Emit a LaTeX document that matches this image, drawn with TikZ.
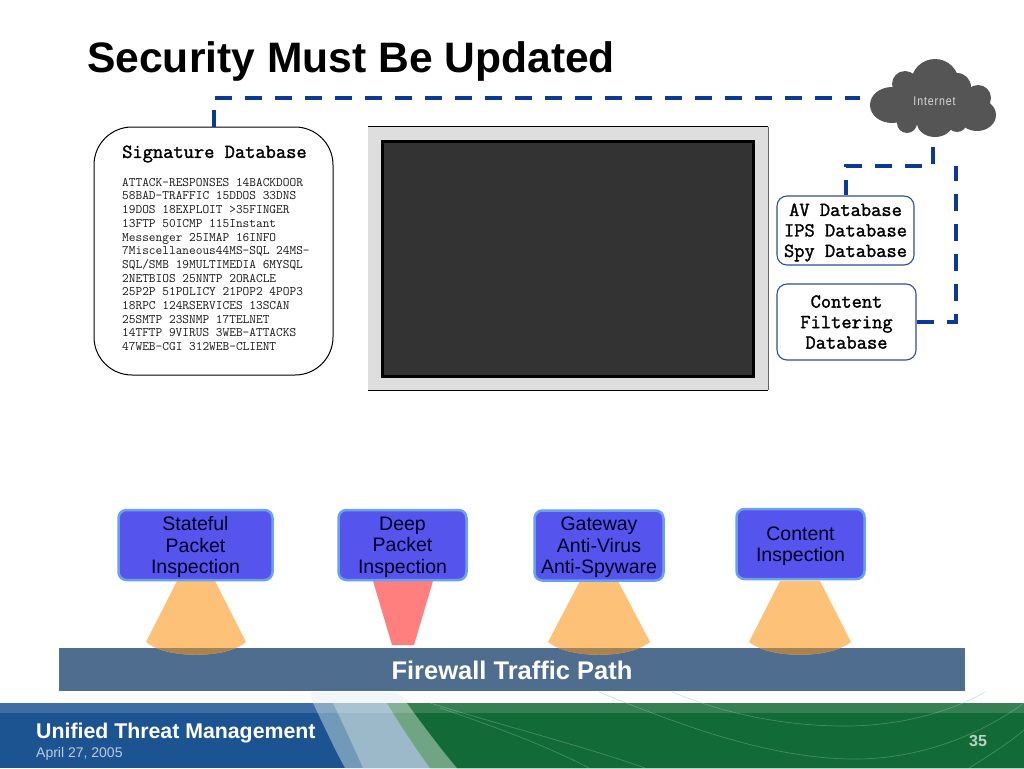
\documentclass[tikz,border=0pt]{standalone}
\usepackage{fontspec}
\setmainfont{Liberation Sans}
\newfontfamily\inetfont[LetterSpace=7,FakeStretch=0.85]{Liberation Sans}
\newfontfamily\dbfont[FakeBold=1.6]{Latin Modern Mono}
\definecolor{dbblue}{HTML}{0A3A96}
\definecolor{boxedge}{HTML}{2F4F9A}
\definecolor{toolfill}{HTML}{5555EE}
\definecolor{tooledge}{HTML}{6AA0F0}
\definecolor{barblue}{HTML}{4F6D8F}
\definecolor{conepass}{HTML}{FDC177}
\definecolor{conedark}{HTML}{A8834F}
\definecolor{coneblock}{HTML}{FF7F7F}
\definecolor{cloudgray}{HTML}{555555}
\definecolor{footblue}{HTML}{1C5492}
\definecolor{footmid}{HTML}{7399B8}
\definecolor{footpale}{HTML}{9BB9C8}
\definecolor{footsage}{HTML}{6FA583}
\definecolor{footgreen}{HTML}{126B36}
\newcommand{\footcurves}{
	(599,692) .. controls (680,725) and (770,759) .. (855,759) .. controls (920,759) and (980,735) .. (1024,703)
	(672,692) .. controls (720,712) and (780,726) .. (845,726) .. controls (900,726) and (950,712) .. (985,692)
	(430,703) .. controls (500,725) and (580,745) .. (645,768)
	(440,708) .. controls (490,725) and (545,745) .. (589,768)
	(969,768) .. controls (990,755) and (1010,742) .. (1024,730)
}
\tikzset{
	dbline/.style={draw=dbblue,line width=4pt,dash pattern=on 17pt off 13pt},
	dbbox/.style={draw=boxedge,line width=1.1pt,rounded corners=10pt,fill=white,inner sep=0pt},
	dblabel/.style={align=center,inner sep=0pt,font=\dbfont\fontsize{19.9}{20.5}\selectfont},
	toolbox/.style={draw=tooledge,line width=2.5pt,fill=toolfill,rounded corners=8pt,inner sep=0pt,minimum height=70pt},
	toollabel/.style={align=center,inner sep=0pt,yshift=-2pt,font=\fontsize{19.5}{21.5}\selectfont,text=black!85!blue},
}
\begin{document}
\begin{tikzpicture}[x=1pt,y=-1pt]
	\useasboundingbox (0,0) rectangle (1024,768);
	\fill[white] (0,0) rectangle (1024,768);

	\node[anchor=west,inner sep=0pt,font=\bfseries\fontsize{42.6}{46}\selectfont] (title) at (87,61) {Security Must Be Updated};

	% footer
	\fill[footpale,opacity=0.12] (310,692) -- (395,692) -- (412,703) -- (313,703) -- cycle;
	\begin{scope}
		\clip (0,690) rectangle (1024,703);
		\draw[footmid,opacity=0.35,line width=0.6pt] \footcurves;
	\end{scope}
	\fill[footblue] (0,703) rectangle (1024,768);
	\fill[footmid] (313,703) .. controls (325,728) and (335,750) .. (345,768) -- (1024,768) -- (1024,703) -- cycle;
	\fill[footpale] (333,703) .. controls (345,728) and (355,750) .. (363,768) -- (1024,768) -- (1024,703) -- cycle;
	\fill[footsage] (387,703) .. controls (402,728) and (417,750) .. (430,768) -- (1024,768) -- (1024,703) -- cycle;
	\fill[footgreen] (407,703) .. controls (425,728) and (442,750) .. (457,768) -- (1024,768) -- (1024,703) -- cycle;
	\fill[white,opacity=0.15] (0,703) rectangle (1024,713);
	\begin{scope}
		\clip (0,703) rectangle (1024,768);
		\draw[white,opacity=0.22,line width=0.7pt] \footcurves;
	\end{scope}
	\node[anchor=west,inner sep=0pt,text=white,font=\bfseries\fontsize{21.3}{23}\selectfont] (footname) at (36,733) {Unified Threat Management};
	\node[anchor=west,inner sep=0pt,text=white!70!footblue,font=\fontsize{14}{16}\selectfont] (footdate) at (36,753.5) {April 27, 2005};
	\node[text=white!70!footgreen,font=\bfseries\fontsize{16}{18}\selectfont] (footpage) at (978,741) {35};

	% firewall bar and cones
	\node[fill=barblue,minimum width=906pt,minimum height=43pt,inner sep=0pt] (fwpath) at (512,669.5) {};
	\node[inner sep=0pt,text=white,font=\bfseries\fontsize{25.5}{27}\selectfont] (fwlabel) at (512,670.5) {Firewall Traffic Path};
	\foreach \cx/\tw/\bw in {196/19/50,599/19/51,800/20/51}{
		\fill[conepass] (\cx-\tw,581) -- (\cx+\tw,581) -- (\cx+\bw,642) .. controls (\cx+30,659) and (\cx-30,659) .. (\cx-\bw,642) -- cycle;
		\begin{scope}
			\clip (59,648) rectangle (965,691);
			\fill[conedark] (\cx-\bw,640) -- (\cx+\bw,640) -- (\cx+\bw,642) .. controls (\cx+30,659) and (\cx-30,659) .. (\cx-\bw,642) -- cycle;
		\end{scope}
	}
	\fill[coneblock] (373,581) -- (433,581) -- (414,645) -- (392,645) -- cycle;

	\node[toolbox,minimum width=154pt,label={[toollabel]center:{Stateful\\Packet\\Inspection}}] (stateful) at (195.5,545) {};
	\node[toolbox,minimum width=128pt,label={[toollabel]center:{Deep\\Packet\\Inspection}}] (deep) at (402.5,545) {};
	\node[toolbox,minimum width=129pt,label={[toollabel]center:{Gateway\\Anti-Virus\\Anti-Spyware}}] (gateway) at (599,545.5) {};
	\node[toolbox,minimum width=128pt,label={[toollabel]center:{Content\\Inspection}}] (content) at (800.5,544) {};

	% monitor
	\node[fill=black!13,minimum width=400pt,minimum height=263pt,inner sep=0pt] (monitor) at (568,258.5) {};
	\draw[black,thick] (monitor.north west) -- (monitor.north east);
	\draw[black,thick] (monitor.south west) -- (monitor.south east);
	\draw[black!60] (monitor.north east) -- (monitor.south east);
	\node[draw=black,line width=3pt,fill=black!80,minimum width=371pt,minimum height=235pt,inner sep=0pt] (screen) at (567.5,258.5) {};

	% signature database
	\node[draw=black,line width=1pt,fill=white,rounded corners=38pt,minimum width=239pt,minimum height=248pt,inner sep=0pt] (sigdb) at (213.5,251) {};
	\node[anchor=west,inner sep=0pt,font=\dbfont\fontsize{19.9}{20}\selectfont] (sigtitle) at (122,154) {Signature Database};
	\node[anchor=north west,inner sep=0pt,align=left,text=black!90,font=\ttfamily\fontsize{13}{13.67}\selectfont] (siglist) at (122,178) {ATTACK-RESPONSES 14BACKDOOR\\58BAD-TRAFFIC 15DDOS 33DNS\\19DOS 18EXPLOIT >35FINGER\\13FTP 50ICMP 115Instant\\Messenger 25IMAP 16INFO\\7Miscellaneous44MS-SQL 24MS-\\SQL/SMB 19MULTIMEDIA 6MYSQL\\2NETBIOS 25NNTP 2ORACLE\\25P2P 51POLICY 21POP2 4POP3\\18RPC 124RSERVICES 13SCAN\\25SMTP 23SNMP 17TELNET\\14TFTP 9VIRUS 3WEB-ATTACKS\\47WEB-CGI 312WEB-CLIENT};

	% cloud
	\fill[cloudgray] (935,83) circle (24pt) (905,84) circle (13pt) (957,87) circle (14pt) (978,98) circle (13pt)
		(977,115) ellipse (19pt and 16pt) (892,105) ellipse (22pt and 18pt) (935,123) ellipse (18pt and 14pt)
		(907,123) circle (10pt) (957,122) circle (10pt) (900,90) rectangle (975,125);
	\node[minimum width=126pt,minimum height=78pt,inner sep=0pt] (inet) at (933,98) {};
	\node[inner sep=0pt,text=white!85!black,font=\inetfont\fontsize{12.5}{14}\selectfont] (inetlabel) at (934.5,101) {Internet};

	\node[dbbox,minimum width=137pt,minimum height=69pt,label={[dblabel,yshift=-2pt]center:{AV Database\\IPS Database\\Spy Database}}] (avdb) at (845.5,230.5) {};
	\node[dbbox,minimum width=139pt,minimum height=76pt,label={[dblabel]center:{Content\\Filtering\\Database}}] (cfdb) at (846.5,322) {};

	\coordinate (avbend) at (933,166);
	\coordinate (cfend) at (956,166);
	\draw[dbline,shorten >=10pt] (sigdb.north) |- (inet.west);
	\draw[dbline,shorten <=10pt] (inet.south) -- (avbend) -| (avdb.north);
	\draw[dbline] (cfdb.east) -| (cfend);
\end{tikzpicture}
\end{document}
